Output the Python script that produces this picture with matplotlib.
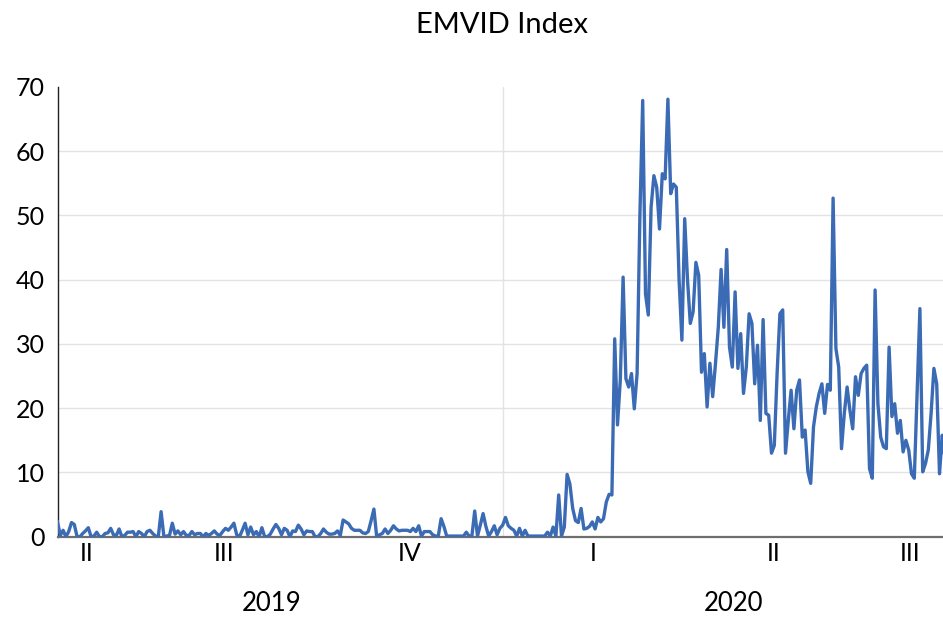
import matplotlib
matplotlib.use("Agg")
import matplotlib.pyplot as plt
import numpy as np

plt.rcParams['font.family'] = ['Lato', 'DejaVu Sans']

title = "EMVID Index"

# Daily (business-day) EMVID index values, Q2 2019 -> Q3 2020
emvid = [
    # 2019 Q2-Q3
    2.3, 0.2, 1.0, 0.0, 0.8, 2.2, 1.9, 0.0, 0.0, 0.5,
    0.9, 1.4, 0.0, 0.1, 0.7, 0.0, 0.0, 0.5, 0.6, 1.3,
    0.3, 0.2, 1.2, 0.0, 0.2, 0.7, 0.7, 0.8, 0.0, 0.8,
    0.5, 0.0, 0.8, 1.0, 0.5, 0.1, 0.0, 3.9, 0.0, 0.1,
    0.2, 2.1, 0.4, 0.9, 0.3, 0.8, 0.2, 0.2, 0.8, 0.3,
    0.5, 0.5, 0.0, 0.5, 0.2, 0.5, 0.9, 0.4, 0.2, 0.8,
    1.3, 1.0, 1.5, 2.1,
    0.3, 0.0, 1.0, 2.1, 0.3, 1.5, 0.3, 0.8, 0.0, 1.4,
    0.0, 0.0, 0.4, 1.2, 1.9, 1.3, 0.3, 1.3, 1.0, 0.0,
    0.9, 0.8, 1.8, 1.2, 0.3, 0.9, 0.8, 0.8, 0.0, 0.0,
    0.5, 1.2, 0.7, 0.4, 0.4, 0.5, 0.9, 0.2, 2.6, 2.3,
    2.0, 1.3, 1.0, 1.0, 1.0, 0.6, 0.5, 0.8, 2.5, 4.3,
    0.0, 0.3, 0.5, 1.2, 0.5, 1.0, 1.7, 1.2, 0.9, 1.0,
    1.0,
    # 2019 Q4
    1.0, 0.8, 1.3, 0.8, 1.7, 0.1, 0.8, 0.8, 0.8, 0.3,
    0.1, 0.1, 2.8, 1.6, 0.1, 0.1, 0.1, 0.1, 0.1, 0.1,
    0.1, 0.7, 0.1, 0.1, 4.0, 0.1, 1.8, 3.6, 1.6, 0.1,
    0.8, 1.7, 0.3, 1.3, 1.8,
    # 2020 Q1
    3.0, 1.7, 1.3, 1.0, 0.1, 1.3, 0.1, 1.0, 0.1, 0.1,
    0.1, 0.1, 0.1, 0.1, 0.1, 0.7, 0.1, 1.5, 0.1, 6.5,
    0.1, 1.5, 9.7, 8.2, 4.4, 2.5, 2.2, 4.4, 1.2, 1.3,
    1.6, 2.3, 1.2, 3.0, 2.3, 2.8, 5.4, 6.6, 6.5, 30.8,
    17.4, 24.4, 40.4, 24.6, 23.3, 25.4, 19.9, 25.4, 50.0, 67.9,
    37.8, 34.5, 51.3, 56.2, 54.4, 47.9, 56.5, 55.7, 68.1, 53.4,
    54.9, 54.4, 39.9, 30.6, 49.5, 40.0, 33.2, 35.0, 42.7, 40.7,
    # 2020 Q2
    25.6, 28.5, 20.2, 27.0, 21.8, 27.0, 32.6, 41.6, 32.6, 44.7,
    29.5, 26.4, 38.1, 26.2, 31.6, 22.3, 26.4, 34.7, 33.2, 23.8,
    29.8, 18.1, 33.8, 19.2, 18.9, 13.0, 14.2, 25.4, 34.7, 35.3,
    13.0, 18.1, 22.8, 16.8, 22.8, 24.4, 15.5, 16.6, 10.1, 8.3,
    17.1, 20.2, 22.3, 23.8, 19.2, 23.7, 22.8, 52.7, 29.3, 26.4,
    13.7, 19.2, 23.3, 19.7, 16.8, 24.9, 22.0, 25.4, 26.2, 26.7,
    # 2020 Q3
    10.6, 9.1, 38.4, 20.7, 15.5, 14.0, 13.7, 29.5, 18.7, 20.7,
    16.1, 18.1, 13.2, 15.0, 13.5, 9.8, 9.1, 22.3, 35.5, 10.1,
    11.4, 13.5, 19.2, 26.2, 23.8, 9.8, 15.8, 11.4,
]

quarter_labels = ["II", "III", "IV", "I", "II", "III"]
quarter_pos = [10.5, 59.5, 125.9, 191.3, 255.9, 304.5]
year_labels = ["2019", "2020"]
year_pos = [76.6, 241.3]
year_boundary = 159.1

yticks = [0, 10, 20, 30, 40, 50, 60, 70]

fig = plt.figure(figsize=(9.43, 6.18), dpi=100)
ax = fig.add_axes([57.5 / 943, (618 - 536.7) / 618, (943 - 57.5) / 943, (536.7 - 87) / 618])

x = np.arange(len(emvid))
ax.plot(x, emvid, color="#3a6bb4", lw=2.4, solid_joinstyle="round", zorder=3)

ax.set_xlim(0, 316.25)
ax.set_ylim(0, 70)
ax.set_yticks(yticks)
ax.tick_params(axis="y", length=0, labelsize=18, pad=9, labelcolor="#000000")
ax.set_xticks([])

for yv in yticks[1:-1]:
    ax.axhline(yv, color="#e3e3e3", lw=1.0, zorder=1)
ax.axvline(year_boundary, color="#e3e3e3", lw=1.0, zorder=1)

for s in ["top", "right"]:
    ax.spines[s].set_visible(False)
ax.spines["left"].set_color("#222222")
ax.spines["left"].set_linewidth(1.0)
ax.spines["bottom"].set_color("#6e6e6e")
ax.spines["bottom"].set_linewidth(1.6)

tr = ax.get_xaxis_transform()
for lab, p in zip(quarter_labels, quarter_pos):
    ax.text(p, -0.037, lab, transform=tr, ha="center", va="center", fontsize=18, color="#000000")
for lab, p in zip(year_labels, year_pos):
    ax.text(p, -0.148, lab, transform=tr, ha="center", va="center", fontsize=18.5, color="#000000")

fig.text(502 / 943, 1 - 25 / 618, title, ha="center", va="center", fontsize=21, color="#000000")

fig.savefig("out.png", dpi=100)
